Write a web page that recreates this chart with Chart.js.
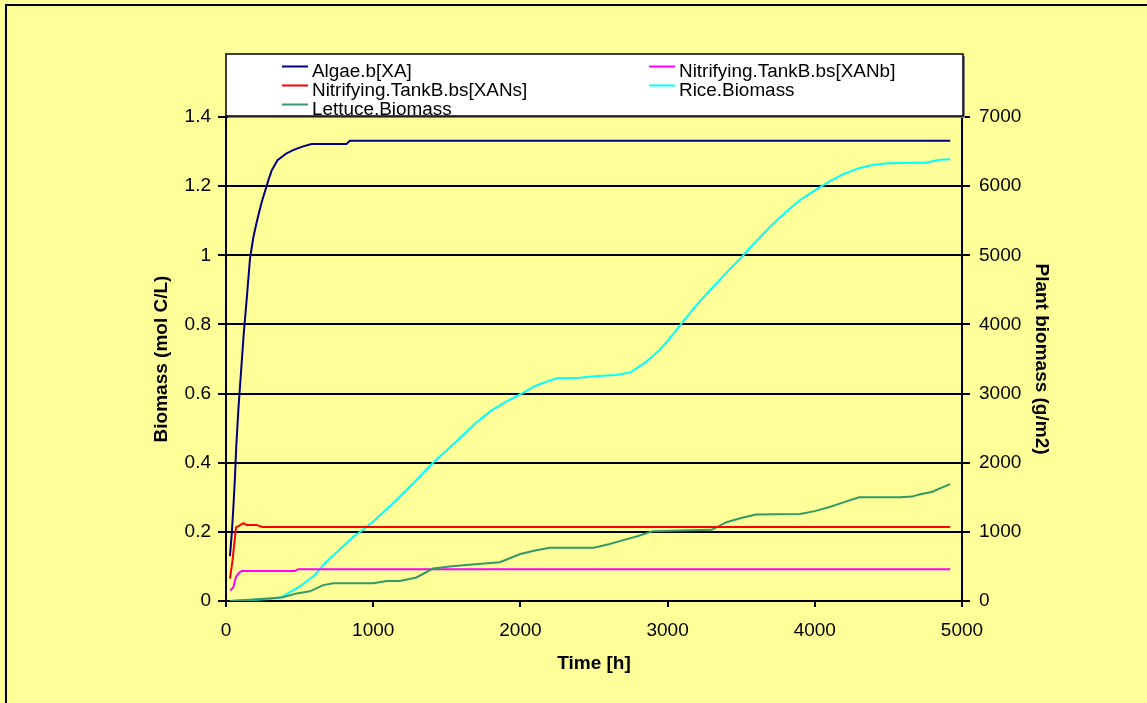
<!DOCTYPE html>
<html>
<head>
<meta charset="utf-8">
<script src="https://cdn.jsdelivr.net/npm/chart.js@4.4.1/dist/chart.umd.min.js"></script>
<style>
  body { margin: 0; background: #FFFF99; }
  canvas { display: block; }
</style>
</head>
<body>
<canvas id="chart1" width="1147" height="703"></canvas>
<script>
// values, time in hours
const algaeT = [27, 40, 50, 60, 70, 85, 100, 120, 140, 163, 185, 208, 240, 265, 290, 310, 350, 412, 460, 524, 581, 700, 819, 841, 4920];
const algaeV = [0.13, 0.2, 0.27, 0.35, 0.45, 0.56, 0.65, 0.77, 0.87, 0.99, 1.05, 1.095, 1.15, 1.185, 1.22, 1.245, 1.275, 1.295, 1.305, 1.315, 1.322, 1.322, 1.322, 1.331, 1.331];

const xansT = [27, 45, 68, 90, 118, 140, 163, 208, 230, 250, 4920];
const xansV = [0.065, 0.12, 0.213, 0.218, 0.225, 0.22, 0.22, 0.22, 0.216, 0.214, 0.214];

const xanbT = [30, 50, 68, 90, 106, 300, 468, 491, 4920];
const xanbV = [0.03, 0.04, 0.07, 0.082, 0.087, 0.087, 0.087, 0.092, 0.092];

const riceT = [27, 150, 300, 378, 420, 460, 502, 550, 604, 672, 750, 864, 932, 1000, 1135, 1271, 1406, 1500, 1600, 1700, 1800, 1900, 2000, 2100, 2200, 2250, 2400, 2500, 2650, 2750, 2850, 2950, 3000, 3100, 3200, 3300, 3400, 3500, 3600, 3700, 3800, 3900, 4000, 4100, 4200, 4300, 4400, 4500, 4650, 4750, 4800, 4850, 4920];
const riceV = [0, 15, 30, 55, 110, 160, 210, 290, 376, 545, 700, 930, 1030, 1150, 1413, 1700, 2000, 2180, 2380, 2580, 2750, 2880, 2990, 3110, 3190, 3220, 3230, 3250, 3270, 3310, 3450, 3640, 3760, 4030, 4290, 4520, 4750, 4970, 5200, 5420, 5620, 5800, 5940, 6070, 6180, 6260, 6310, 6330, 6340, 6340, 6360, 6380, 6390];

const lettT = [27, 190, 380, 480, 570, 660, 728, 1000, 1090, 1180, 1294, 1406, 1520, 1633, 1860, 2000, 2100, 2200, 2500, 2600, 2700, 2800, 2900, 3300, 3400, 3500, 3600, 3900, 4000, 4100, 4200, 4300, 4580, 4660, 4710, 4800, 4850, 4920];
const lettV = [0, 20, 50, 110, 140, 230, 256, 256, 290, 290, 340, 470, 500, 520, 560, 680, 730, 770, 770, 820, 880, 940, 1010, 1030, 1140, 1200, 1250, 1260, 1300, 1360, 1430, 1500, 1500, 1510, 1540, 1580, 1630, 1690];

const xTicks = [0, 1000, 2000, 3000, 4000, 5000];

const FONT = 'Arial, "Liberation Sans", sans-serif';

function pts(t, v) {
    return t.map((x, i) => ({ x: x, y: v[i] }));
}

const bgPlugin = {
    id: 'bg',
    beforeDraw(chart) {
        const ctx = chart.ctx;
        ctx.save();
        ctx.fillStyle = '#FFFF99';
        ctx.fillRect(0, 0, chart.width, chart.height);
        ctx.strokeStyle = '#000';
        ctx.lineWidth = 2;
        ctx.strokeRect(6, 5, chart.width + 10, chart.height + 10);
        ctx.restore();
    }
};

// legend box in two columns, like the original
const legendPlugin = {
    id: 'boxLegend',
    afterDraw(chart) {
        const ctx = chart.ctx;
        const left = chart.chartArea.left;
        const right = chart.chartArea.right + 1;
        ctx.save();
        ctx.fillStyle = '#808080';
        ctx.fillRect(left + 2, 56, right - left, 62);
        ctx.fillStyle = '#fff';
        ctx.fillRect(left, 54, right - left, 62);
        ctx.strokeStyle = '#000';
        ctx.lineWidth = 1.5;
        ctx.strokeRect(left, 54, right - left, 62);

        const cols = [282, 649];
        const rows = [77, 96, 115];
        const order = [0, 3, 1, 4, 2];
        order.forEach((di, k) => {
            const ds = chart.data.datasets[di];
            const cx = cols[k % 2];
            const by = rows[Math.floor(k / 2)];
            ctx.strokeStyle = ds.borderColor;
            ctx.lineWidth = 2;
            ctx.beginPath();
            ctx.moveTo(cx, by - 10.5);
            ctx.lineTo(cx + 26, by - 10.5);
            ctx.stroke();
            ctx.save();
            ctx.translate(cx + 30, by);
            ctx.scale(1.05, 1);
            ctx.fillStyle = '#000';
            ctx.font = '18px ' + FONT;
            ctx.textBaseline = 'alphabetic';
            ctx.fillText(ds.label, 0, 0);
            ctx.restore();
        });
        ctx.restore();
    }
};

const data = {
    datasets: [
        { label: 'Algae.b[XA]', data: pts(algaeT, algaeV), borderColor: '#000080', yAxisID: 'y' },
        { label: 'Nitrifying.TankB.bs[XANs]', data: pts(xansT, xansV), borderColor: '#FF0000', yAxisID: 'y' },
        { label: 'Lettuce.Biomass', data: pts(lettT, lettV), borderColor: '#339966', yAxisID: 'y2' },
        { label: 'Nitrifying.TankB.bs[XANb]', data: pts(xanbT, xanbV), borderColor: '#FF00FF', yAxisID: 'y' },
        { label: 'Rice.Biomass', data: pts(riceT, riceV), borderColor: '#00FFFF', yAxisID: 'y2' }
    ]
};

const tickFont = { family: FONT, size: 19 };
const titleFont = { family: FONT, size: 19, weight: 'bold' };

const config = {
    type: 'line',
    data: data,
    options: {
        responsive: false,
        animation: false,
        layout: { padding: { top: 117, left: 0, right: 0, bottom: 0 } },
        elements: {
            point: { radius: 0 },
            line: { borderWidth: 2, tension: 0 }
        },
        plugins: {
            legend: { display: false },
            tooltip: { enabled: false }
        },
        scales: {
            x: {
                type: 'linear',
                min: 0,
                max: 5000,
                afterBuildTicks: s => { s.ticks = xTicks.map(v => ({ value: v })); },
                afterFit: s => { s.height = 102; },
                ticks: { color: '#000', font: tickFont, padding: 12, maxRotation: 0, callback: v => String(v) },
                grid: { drawOnChartArea: false, color: '#000', lineWidth: 2, tickLength: 6 },
                border: { color: '#000', width: 2 },
                title: { display: true, text: 'Time [h]', color: '#000', font: titleFont, padding: { top: 0, bottom: 28 } }
            },
            y: {
                position: 'left',
                min: 0,
                max: 1.4,
                afterFit: s => { s.width = 226; },
                ticks: { stepSize: 0.2, color: '#000', font: tickFont, padding: 7, callback: v => String(Math.round(v * 10) / 10) },
                grid: { color: '#000', lineWidth: 2, tickLength: 8 },
                border: { color: '#000', width: 2 },
                title: { display: true, text: 'Biomass (mol C/L)', color: '#000', font: titleFont, padding: { top: 150, bottom: 0 } }
            },
            y2: {
                position: 'right',
                min: 0,
                max: 7000,
                afterFit: s => { s.width = 185; },
                ticks: { stepSize: 1000, color: '#000', font: tickFont, padding: 9, callback: v => String(v) },
                grid: { drawOnChartArea: false, color: '#000', lineWidth: 2, tickLength: 8 },
                border: { color: '#000', width: 2 },
                title: { display: true, text: 'Plant biomass (g/m2)', color: '#000', font: titleFont, padding: { top: 94, bottom: 0 } }
            }
        }
    },
    plugins: [bgPlugin, legendPlugin]
};

const myChart = new Chart(document.getElementById('chart1'), config);
</script>
</body>
</html>
